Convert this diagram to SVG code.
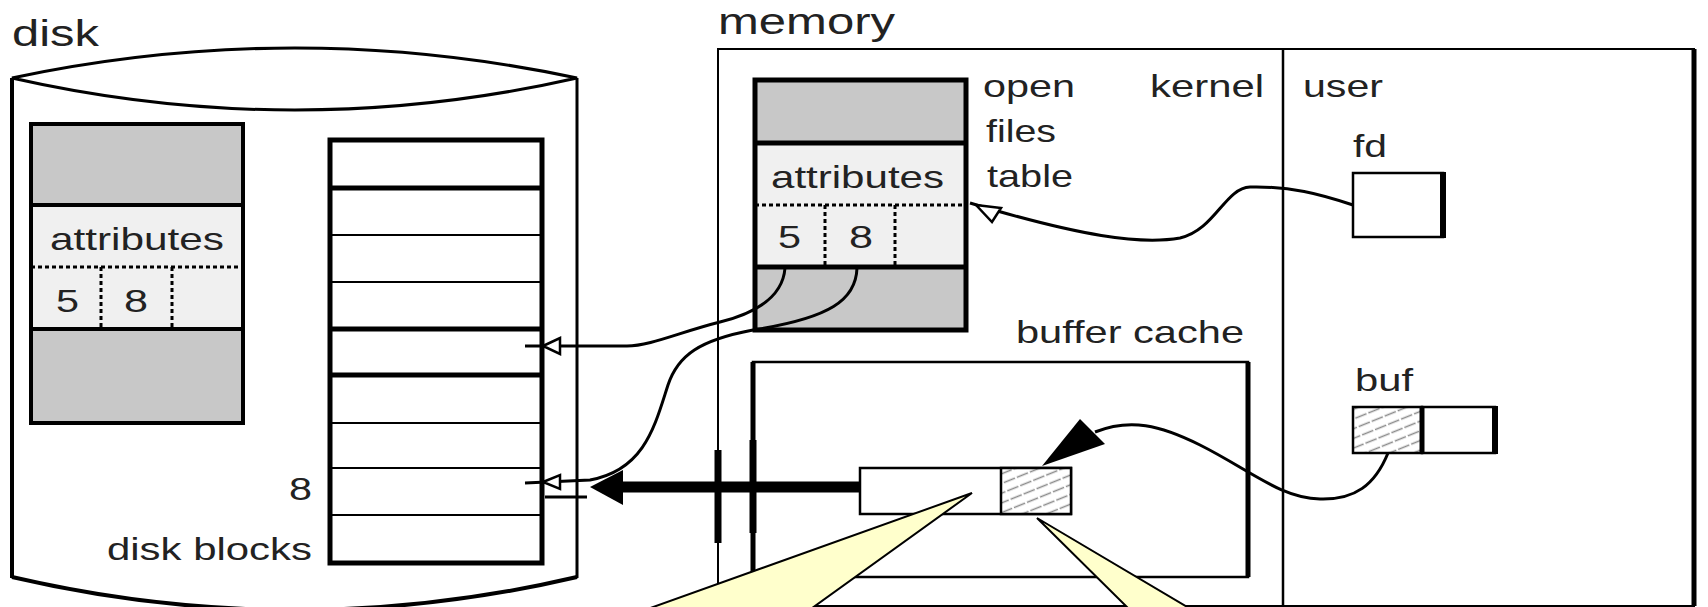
<svg xmlns="http://www.w3.org/2000/svg" width="1708" height="607" viewBox="0 0 1708 607">
<defs>
<style>
text{font-family:"Liberation Sans",Arial,sans-serif;fill:#222;font-size:32px}
.big{font-size:36px}
.ln{stroke:#000;fill:none}
.box{stroke:#000;fill:#fff;stroke-width:2.5}
.gray{fill:#c8c8c8}
.light{fill:#f0f0f0}
.dot{stroke:#000;stroke-width:3;stroke-dasharray:4 3;fill:none}
.curve{stroke:#000;fill:none;stroke-width:3}
.callout{fill:#ffffcc;stroke:#000;stroke-width:2}
.open{fill:#fff;stroke:#000;stroke-width:2.5}
</style>
<pattern id="hatch" patternUnits="userSpaceOnUse" width="14" height="9" patternTransform="rotate(-22)">
<rect width="14" height="9" fill="#fff"/>
<line x1="0" y1="4.5" x2="14" y2="4.5" stroke="#8a8a8a" stroke-width="1.3" stroke-dasharray="6 2"/>
</pattern>
</defs>
<rect width="1708" height="607" fill="#fff"/>

<g id="disk">
<text class="big" x="12" y="46" textLength="87" lengthAdjust="spacingAndGlyphs">disk</text>
<path d="M12,78 L12,577 Q295,643 577,577 L577,78" fill="#fff" stroke="none"/>
<line class="ln" x1="12" y1="78" x2="12" y2="578" stroke-width="4"/>
<line class="ln" x1="577" y1="78" x2="577" y2="578" stroke-width="3"/>
<path class="ln" d="M12,577 Q295,643 577,577" stroke-width="4"/>
<path d="M12,78 Q295,18 577,78 Q295,142 12,78 Z" fill="#fff" stroke="#000" stroke-width="3"/>
</g>

<g id="memory">
<text class="big" x="718" y="34" textLength="177" lengthAdjust="spacingAndGlyphs">memory</text>
<rect x="718" y="49" width="976" height="557" fill="none" stroke="#000" stroke-width="2"/>
<line class="ln" x1="1694" y1="49" x2="1694" y2="606" stroke-width="5"/>
<line class="ln" x1="1283" y1="49" x2="1283" y2="606" stroke-width="2.5"/>
<text x="1150" y="97" textLength="114" lengthAdjust="spacingAndGlyphs">kernel</text>
<text x="1303" y="97" textLength="80" lengthAdjust="spacingAndGlyphs">user</text>
</g>

<g id="disk-inode">
<rect class="gray" x="31" y="124" width="212" height="81"/>
<rect class="light" x="31" y="205" width="212" height="124"/>
<rect class="gray" x="31" y="329" width="212" height="94"/>
<rect x="31" y="124" width="212" height="299" fill="none" stroke="#000" stroke-width="4"/>
<line class="ln" x1="31" y1="205" x2="243" y2="205" stroke-width="4"/>
<line class="ln" x1="31" y1="329" x2="243" y2="329" stroke-width="4"/>
<line class="dot" x1="31" y1="267" x2="243" y2="267"/>
<line class="dot" x1="101" y1="267" x2="101" y2="327"/>
<line class="dot" x1="172" y1="267" x2="172" y2="327"/>
<text x="50" y="250" textLength="174" lengthAdjust="spacingAndGlyphs">attributes</text>
<text x="56" y="312" textLength="23" lengthAdjust="spacingAndGlyphs">5</text>
<text x="124" y="312" textLength="24" lengthAdjust="spacingAndGlyphs">8</text>
</g>

<g id="disk-blocks">
<rect x="330" y="140" width="212" height="423" fill="#fff" stroke="#000" stroke-width="5"/>
<line class="ln" x1="330" y1="188" x2="542" y2="188" stroke-width="5"/>
<line class="ln" x1="330" y1="235" x2="542" y2="235" stroke-width="2"/>
<line class="ln" x1="330" y1="282" x2="542" y2="282" stroke-width="2"/>
<line class="ln" x1="330" y1="329" x2="542" y2="329" stroke-width="5"/>
<line class="ln" x1="330" y1="375" x2="542" y2="375" stroke-width="5"/>
<line class="ln" x1="330" y1="423" x2="542" y2="423" stroke-width="2"/>
<line class="ln" x1="330" y1="468" x2="542" y2="468" stroke-width="2"/>
<line class="ln" x1="330" y1="515" x2="542" y2="515" stroke-width="2"/>
<text x="289" y="500" textLength="23" lengthAdjust="spacingAndGlyphs">8</text>
<text x="107" y="560" textLength="205" lengthAdjust="spacingAndGlyphs">disk blocks</text>
</g>

<g id="open-files-table">
<rect class="gray" x="755" y="80" width="211" height="63"/>
<rect class="light" x="755" y="143" width="211" height="124"/>
<rect class="gray" x="755" y="267" width="211" height="63"/>
<rect x="755" y="80" width="211" height="250" fill="none" stroke="#000" stroke-width="5"/>
<line class="ln" x1="755" y1="143" x2="966" y2="143" stroke-width="5"/>
<line class="ln" x1="755" y1="267" x2="966" y2="267" stroke-width="5"/>
<line class="dot" x1="755" y1="205" x2="966" y2="205"/>
<line class="dot" x1="825" y1="205" x2="825" y2="265"/>
<line class="dot" x1="895" y1="205" x2="895" y2="265"/>
<text x="771" y="188" textLength="173" lengthAdjust="spacingAndGlyphs">attributes</text>
<text x="778" y="248" textLength="23" lengthAdjust="spacingAndGlyphs">5</text>
<text x="849" y="248" textLength="24" lengthAdjust="spacingAndGlyphs">8</text>
<text x="983" y="97" textLength="92" lengthAdjust="spacingAndGlyphs">open</text>
<text x="986" y="142" textLength="70" lengthAdjust="spacingAndGlyphs">files</text>
<text x="987" y="187" textLength="86" lengthAdjust="spacingAndGlyphs">table</text>
</g>

<g id="buffer-cache">
<rect x="753" y="362" width="495" height="215" fill="none" stroke="#000" stroke-width="2.5"/>
<line class="ln" x1="753" y1="362" x2="753" y2="577" stroke-width="5"/>
<line class="ln" x1="1248" y1="362" x2="1248" y2="577" stroke-width="5"/>
<text x="1016" y="343" textLength="228" lengthAdjust="spacingAndGlyphs">buffer cache</text>
</g>

<g id="cache-buffer">
<rect class="box" x="860" y="468" width="211" height="46"/>
<rect x="1001" y="468" width="70" height="46" fill="url(#hatch)" stroke="#000" stroke-width="2.5"/>
</g>

<g id="fd">
<text x="1353" y="157" textLength="34" lengthAdjust="spacingAndGlyphs">fd</text>
<rect class="box" x="1353" y="173" width="90" height="64"/>
<line class="ln" x1="1443" y1="172" x2="1443" y2="238" stroke-width="6"/>
</g>

<g id="buf">
<text x="1355" y="391" textLength="58" lengthAdjust="spacingAndGlyphs">buf</text>
<rect x="1353" y="407" width="69" height="46" fill="url(#hatch)" stroke="#000" stroke-width="2.5"/>
<rect class="box" x="1422" y="407" width="73" height="46"/>
<line class="ln" x1="1422" y1="406" x2="1422" y2="454" stroke-width="5"/>
<line class="ln" x1="1495" y1="406" x2="1495" y2="454" stroke-width="6"/>
</g>

<g id="connectors">
<path class="curve" d="M785,268 C783,295 760,312 720,322 S650,346 627,346 L525,346"/>
<polygon class="open" points="543,346 560,338 560,354"/>
<path class="curve" d="M857,268 C856,300 830,318 753,330 C700,340 678,355 668,385 C655,425 645,470 590,480 L525,483"/>
<polygon class="open" points="543,482 560,475 560,489"/>
<line class="ln" x1="545" y1="497" x2="587" y2="497" stroke-width="3"/>
<path class="curve" stroke-width="4" d="M1353,205 C1320,194 1290,186 1250,187 C1225,188 1215,230 1180,238 C1140,245 1080,236 970,203"/>
<polygon class="open" points="976,205 1001,208 992,222"/>
<path class="curve" stroke-width="4.5" d="M1388,453 C1375,485 1355,500 1320,499 C1280,498 1250,470 1200,445 C1160,425 1130,418 1095,432"/>
<polygon points="1042,466 1080,419 1105,444" fill="#000"/>
<line class="ln" x1="860" y1="487" x2="618" y2="487" stroke-width="11"/>
<polygon points="590,487 623,470 623,505" fill="#000"/>
<line class="ln" x1="718" y1="450" x2="718" y2="543" stroke-width="7"/>
<line class="ln" x1="753" y1="440" x2="753" y2="533" stroke-width="7"/>
</g>

<g id="callouts">
<polygon class="callout" points="972,493 642,611 808,611"/>
<polygon class="callout" points="1037,518 1131,611 1194,611"/>
</g>
</svg>
